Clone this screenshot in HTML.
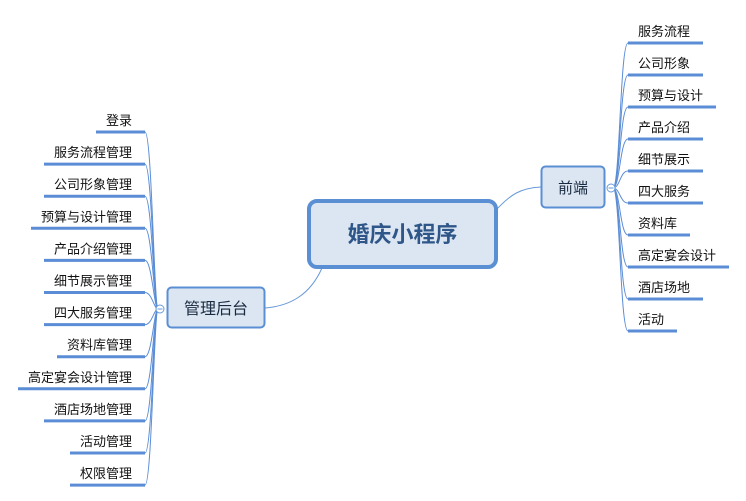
<!DOCTYPE html>
<html><head><meta charset="utf-8"><style>
html,body{margin:0;padding:0;background:#fff;}
svg{display:block;}
text{font-family:"Liberation Sans","Noto Sans CJK SC",sans-serif;fill:#111;}
</style></head><body>
<svg width="746" height="501" viewBox="0 0 746 501" xmlns="http://www.w3.org/2000/svg">
<g fill="none" stroke="#6a9ad8" stroke-width="1">
<path d="M265,308 C290,306 310,295 322,268"/>
<path d="M496,210 C510,195 520,188 541,187"/>
</g>
<g id="left" stroke="#5b8dd6" fill="none"></g>
<g id="right" stroke="#5b8dd6" fill="none"></g>
<g id="lt"></g><g id="rt"></g>
<rect x="309" y="201" width="187" height="66" rx="8" fill="#dce6f2" stroke="#5b8fd4" stroke-width="4"/>
<text x="402.5" y="242" text-anchor="middle" font-size="22" font-weight="bold" style="fill:#2f5689">婚庆小程序</text>
<rect x="541.5" y="166.5" width="63" height="41" rx="4" fill="#dce6f2" stroke="#5b8fd4" stroke-width="2"/>
<text x="573" y="193" text-anchor="middle" font-size="15" style="fill:#1a2a40">前端</text>
<rect x="167.5" y="287.5" width="97" height="40" rx="4" fill="#dce6f2" stroke="#5b8fd4" stroke-width="2"/>
<text x="216" y="314" text-anchor="middle" font-size="16" style="fill:#1a2a40">管理后台</text>
<circle cx="160" cy="309" r="4" fill="#fff" stroke="#6a9ad8"/>
<line x1="157.5" y1="309" x2="162.5" y2="309" stroke="#6a9ad8"/>
<circle cx="611" cy="188" r="4" fill="#fff" stroke="#6a9ad8"/>
<line x1="608.5" y1="188" x2="613.5" y2="188" stroke="#6a9ad8"/>
</svg>
<script>
var ns="http://www.w3.org/2000/svg";
function el(p,t,a,txt){var e=document.createElementNS(ns,t);for(var k in a)e.setAttribute(k,a[k]);if(txt)e.textContent=txt;p.appendChild(e);}
var L=["登录","服务流程管理","公司形象管理","预算与设计管理","产品介绍管理","细节展示管理","四大服务管理","资料库管理","高定宴会设计管理","酒店场地管理","活动管理","权限管理"];
var R=["服务流程","公司形象","预算与设计","产品介绍","细节展示","四大服务","资料库","高定宴会设计","酒店场地","活动"];
var g=document.getElementById("left"),gt=document.getElementById("lt");
L.forEach(function(s,i){var y=132+32.1*i;var w=s.length*13;var x0=132-w-10;
el(g,"path",{d:"M"+x0+","+y+" L145,"+y,"stroke-width":"3"});
el(g,"path",{d:"M145,"+y+" C152,"+y+" 154,309 158,309","stroke-width":"1"});
el(gt,"text",{x:132,y:y-7,"text-anchor":"end","font-size":"13"},s);});
var g2=document.getElementById("right"),rt=document.getElementById("rt");
R.forEach(function(s,i){var y=43+32*i;var w=s.length*13;var x1=638+w+13;
el(g2,"path",{d:"M628,"+y+" L"+x1+","+y,"stroke-width":"3"});
el(g2,"path",{d:"M613,188 C620,188 620,"+y+" 628,"+y,"stroke-width":"1"});
el(rt,"text",{x:638,y:y-7,"font-size":"13"},s);});
</script>
</body></html>
